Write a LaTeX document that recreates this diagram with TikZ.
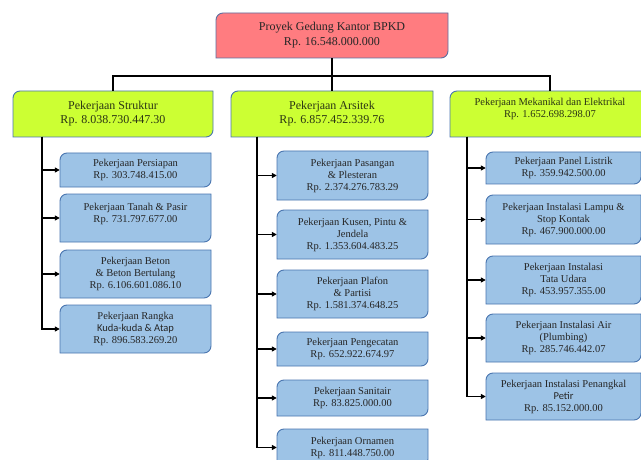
\documentclass[tikz,border=0pt]{standalone}
\usepackage{fontspec}
\setmainfont{Liberation Serif}
\newfontfamily\carlitofont{Carlito}
\usetikzlibrary{arrows.meta}

\definecolor{topfill}{HTML}{FF7C80}
\definecolor{lvtwo}{HTML}{CCFF33}
\definecolor{lvthree}{HTML}{9DC3E6}
\definecolor{bordr}{HTML}{4A76B0}
\definecolor{topbordr}{HTML}{5C6FA0}
\definecolor{twotxt}{HTML}{2B3514}
\definecolor{threetxt}{HTML}{262626}

\tikzset{
  topshape/.style={fill=topfill,draw=topbordr,line width=0.9pt},
  twoshape/.style={fill=lvtwo,draw=bordr,line width=0.9pt},
  threeshape/.style={fill=lvthree,draw=bordr,line width=0.9pt},
  toptext/.style={font=\fontsize{12}{15}\selectfont,text=black!85},
  twotext/.style={font=\fontsize{12}{14}\selectfont,text=twotxt},
  twosmall/.style={font=\fontsize{10.5}{11.5}\selectfont,text=twotxt},
  threetext/.style={font=\fontsize{10.5}{12}\selectfont,text=threetxt},
  conn/.style={draw=black,line width=1.4pt},
  arr/.style={conn,-{Triangle[length=5pt,width=5pt]}},
}

% name, x1, ytop, x2, ybottom, shape style, text style, text
\newcommand\dbox[8]{%
  \path[#6] (#2,{-(#3)-7}) arc[start angle=180,end angle=90,radius=7]
    -- (#4,-#3) -- (#4,{-(#5)+7}) arc[start angle=0,end angle=-90,radius=7]
    -- (#2,-#5) -- cycle;
  \node[#7,inner sep=0pt,align=center,
        minimum width={(#4-#2)*1pt},minimum height={(#5-#3)*1pt}]
        (#1) at ({(#2+#4)/2},{-(#3+#5)/2}) {#8};
}

\begin{document}
\begin{tikzpicture}[x=1pt,y=1pt]
\useasboundingbox (0,0) rectangle (641,-460);
\fill[white] (0,0) rectangle (641,-460);

% top
\dbox{top}{216}{13}{448}{58}{topshape}{toptext}{Proyek Gedung Kantor BPKD\\Rp. 16.548.000.000}

% level 2
\dbox{s}{13}{91}{213}{137}{twoshape}{twotext}{Pekerjaan Struktur\\Rp. 8.038.730.447.30}
\dbox{a}{231}{91}{433}{137}{twoshape}{twotext}{Pekerjaan Arsitek\\Rp. 6.857.452.339.76}
\dbox{m}{450}{91}{650}{137}{twoshape}{twosmall}{Pekerjaan Mekanikal dan Elektrikal\\Rp. 1.652.698.298.07\\[1pt]}

% struktur children
\dbox{s1}{60}{153}{211}{187}{threeshape}{threetext}{Pekerjaan Persiapan\\Rp. 303.748.415.00}
\dbox{s2}{60}{194}{211}{242}{threeshape}{threetext}{Pekerjaan Tanah \& Pasir\\Rp. 731.797.677.00\\[-2pt]}
\dbox{s3}{60}{250}{211}{298}{threeshape}{threetext}{Pekerjaan Beton\\\& Beton Bertulang\\Rp. 6.106.601.086.10}
\dbox{s4}{60}{305}{211}{353}{threeshape}{threetext}{Pekerjaan Rangka\\{\carlitofont Kuda-kuda \& Atap}\\Rp. 896.583.269.20}

% arsitek children
\dbox{a1}{277}{151}{428}{200}{threeshape}{threetext}{Pekerjaan Pasangan\\\& Plesteran\\Rp. 2.374.276.783.29}
\dbox{a2}{277}{210}{428}{259}{threeshape}{threetext}{Pekerjaan Kusen, Pintu \&\\Jendela\\Rp. 1.353.604.483.25}
\dbox{a3}{277}{270}{428}{318}{threeshape}{threetext}{Pekerjaan Plafon\\\& Partisi\\Rp. 1.581.374.648.25}
\dbox{a4}{277}{332}{428}{366}{threeshape}{threetext}{Pekerjaan Pengecatan\\Rp. 652.922.674.97}
\dbox{a5}{277}{380}{428}{416}{threeshape}{threetext}{Pekerjaan Sanitair\\Rp. 83.825.000.00}
\dbox{a6}{277}{429}{428}{466}{threeshape}{threetext}{Pekerjaan Ornamen\\Rp. 811.448.750.00}

% mekanikal children
\dbox{m1}{486}{152}{641}{184}{threeshape}{threetext}{Pekerjaan Panel Listrik\\Rp. 359.942.500.00}
\dbox{m2}{486}{195}{641}{244}{threeshape}{threetext}{Pekerjaan Instalasi Lampu \&\\Stop Kontak\\Rp. 467.900.000.00}
\dbox{m3}{486}{256}{641}{304}{threeshape}{threetext}{Pekerjaan Instalasi\\Tata Udara\\Rp. 453.957.355.00}
\dbox{m4}{486}{314}{641}{362}{threeshape}{threetext}{Pekerjaan Instalasi Air\\(Plumbing)\\Rp. 285.746.442.07}
\dbox{m5}{486}{373}{641}{420}{threeshape}{threetext}{Pekerjaan Instalasi Penangkal\\{\carlitofont Petir}\\Rp. 85.152.000.00}

% connectors top -> level 2
\coordinate (hub) at (332,-76);
\draw[conn] (top.south) -- (hub);
\draw[conn] (hub) -| (s.north);
\draw[conn] (hub) -| (a.north);
\draw[conn] (hub) -| (m.north);

% trunks
\coordinate (sT) at (42,-137);
\coordinate (aT) at (257,-137);
\coordinate (mT) at (467,-137);
\foreach \c in {s1,s2,s3,s4} \draw[arr] (sT) |- (\c.west);
\foreach \c in {a1,a2,a3,a4,a5,a6} \draw[arr] (aT) |- (\c.west);
\foreach \c in {m1,m2,m3,m4,m5} \draw[arr] (mT) |- (\c.west);
\end{tikzpicture}
\end{document}
